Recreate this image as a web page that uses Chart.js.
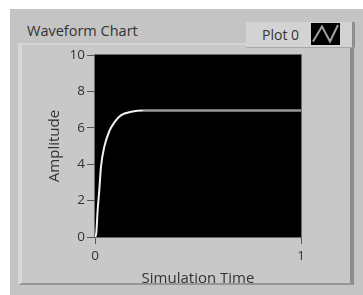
<!DOCTYPE html>
<html>
<head>
<meta charset="utf-8">
<script src="https://cdn.jsdelivr.net/npm/chart.js@4.4.1/dist/chart.umd.min.js"></script>
<style>
  html, body { margin: 0; padding: 0; background: #ffffff; width: 363px; height: 295px; overflow: hidden; }
  #panel { position: absolute; left: 10px; top: 9px; width: 353px; height: 286px; background: #c4c4c4; }
  #inner { position: absolute; left: 18px; top: 43px; width: 328px; height: 238px; background: #c8c8c8;
           border-left: 4px solid #d8d8d8; border-top: 2px solid #d4d4d4; border-right: 4px solid #8c8c8c; border-bottom: 2px solid #969696; }
  #title { position: absolute; left: 27px; top: 21px; font: 14.5px "Open Sans", sans-serif; color: #333333; line-height: 20px; white-space: nowrap; }
  #legend { position: absolute; left: 246px; top: 22px; width: 106px; height: 25px; background: #d3d3d3;
            border-right: 3px solid #8e8e8e; border-bottom: 1px solid #a8a8a8; }
  #legendText { position: absolute; left: 16px; top: 3px; font: 14px "Open Sans", sans-serif; color: #333333; line-height: 20px; white-space: nowrap; }
  #legendIcon { position: absolute; left: 65px; top: 1px; }
  #c { position: absolute; left: 0; top: 0; }
</style>
</head>
<body>
<div id="panel"></div>
<div id="inner"></div>
<div id="title">Waveform Chart</div>
<div id="legend">
  <span id="legendText">Plot 0</span>
  <svg id="legendIcon" width="29" height="22" viewBox="0 0 29 22">
    <rect x="0" y="0" width="29" height="22" fill="#000"/>
    <polyline points="2,18.5 11,3.5 19,18.5 27,2" fill="none" stroke="#a0a0a0" stroke-width="2"/>
  </svg>
</div>
<canvas id="c" width="363" height="295"></canvas>
<script>
// ---- data ----
const simTime   = [0, 0.006, 0.013, 0.021, 0.029, 0.045, 0.069, 0.094, 0.127, 0.176, 0.233, 1];
const amplitude = [0, 0.2,   1.5,   2.6,   3.85,  4.95,  5.8,   6.3,   6.7,   6.88,  6.95,  6.95];
const xTickValues = [0, 1];
const yTickValues = [0, 2, 4, 6, 8, 10];
const seriesName = "Plot 0";
const xTitle = "Simulation Time";
const yTitle = "Amplitude";

const points = simTime.map((t, i) => ({ x: t, y: amplitude[i] }));

const plotBg = {
  id: 'plotBg',
  beforeDatasetsDraw(chart) {
    const { ctx, chartArea: a } = chart;
    ctx.save();
    ctx.fillStyle = '#000000';
    ctx.fillRect(a.left, a.top, a.right - a.left, a.bottom - a.top);
    ctx.strokeStyle = '#6a6a6a';
    ctx.lineWidth = 1;
    ctx.strokeRect(a.left - 0.5, a.top - 0.5, a.right - a.left + 1, a.bottom - a.top + 1);
    ctx.restore();
  }
};

const tickFont = { family: '"Open Sans", sans-serif', size: 13.5 };
const titleFont = { family: '"Open Sans", sans-serif', size: 15 };

new Chart(document.getElementById('c'), {
  type: 'line',
  data: {
    datasets: [{
      label: seriesName,
      data: points,
      borderColor: '#f2f2f2',
      borderWidth: 2,
      pointRadius: 0,
      cubicInterpolationMode: 'monotone',
      segment: {
        borderColor: ctx => ctx.p0.parsed.x >= 0.23 ? '#9a9a9a' : '#f2f2f2',
        borderWidth: ctx => ctx.p0.parsed.x >= 0.23 ? 2.5 : 2
      }
    }]
  },
  options: {
    responsive: false,
    animation: false,
    devicePixelRatio: 1,
    layout: { padding: { left: 46, top: 55, right: 62, bottom: 7 } },
    plugins: { legend: { display: false }, title: { display: false }, tooltip: { enabled: false } },
    scales: {
      x: {
        type: 'linear', min: 0, max: 1,
        afterBuildTicks: s => { s.ticks = xTickValues.map(v => ({ value: v })); },
        afterFit: s => { s.height = 295 - 7 - 237; },
        grid: { drawOnChartArea: false, drawTicks: true, tickLength: 7, color: '#555555' },
        border: { display: false },
        ticks: { font: tickFont, color: '#333333', padding: 4, maxRotation: 0 },
        title: { display: true, text: xTitle, font: titleFont, color: '#333333', padding: 0 }
      },
      y: {
        type: 'linear', min: 0, max: 10,
        afterBuildTicks: s => { s.ticks = yTickValues.map(v => ({ value: v })); },
        afterFit: s => { s.width = 95 - 46; },
        grid: { drawOnChartArea: false, drawTicks: true, tickLength: 8, color: '#555555' },
        border: { display: false },
        ticks: { font: tickFont, color: '#333333', padding: 2 },
        title: { display: true, text: yTitle, font: titleFont, color: '#333333', padding: 0 }
      }
    }
  },
  plugins: [plotBg]
});
</script>
</body>
</html>
